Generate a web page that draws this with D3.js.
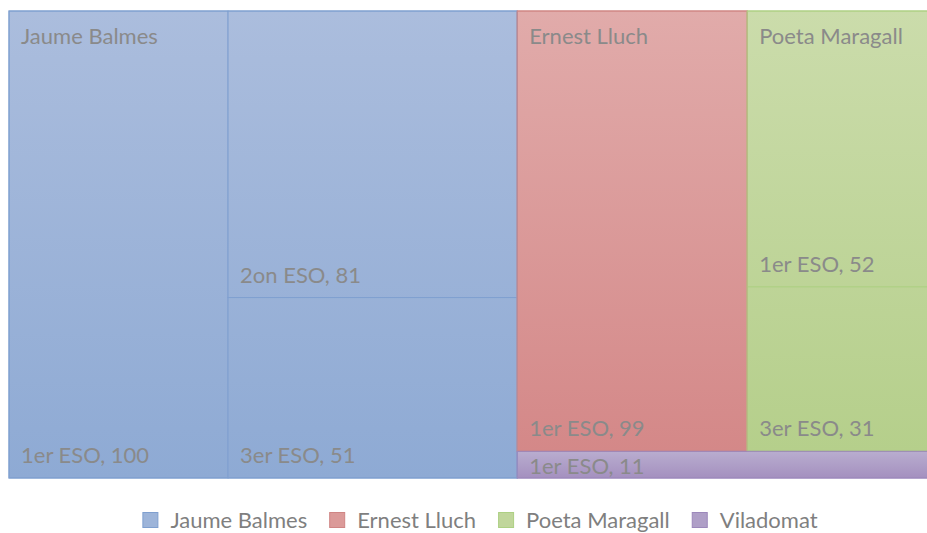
<!DOCTYPE html>
<html>
<head>
<meta charset="utf-8">
<script src="https://cdn.jsdelivr.net/npm/d3@7"></script>
<style>
  body { margin: 0; background: #fff; }
  text { font-family: Lato, "Open Sans", sans-serif; }
</style>
</head>
<body>
<div id="chart"></div>
<script>
// schools (series) and their courses
const schools = ["Jaume Balmes", "Ernest Lluch", "Poeta Maragall", "Viladomat"];
const jaumeCourses = ["1er ESO", "2on ESO", "3er ESO"];
const jaumeValues = [100, 81, 51];
const ernestCourses = ["1er ESO"];
const ernestValues = [99];
const poetaCourses = ["1er ESO", "3er ESO"];
const poetaValues = [52, 31];
const viladomatCourses = ["1er ESO"];
const viladomatValues = [11];

const colorTop = ["#abbddd", "#e1abaa", "#cbdcab", "#b9adcf"];
const colorBottom = ["#8eaad4", "#d48888", "#b5cf8b", "#a490bf"];
const strokes = ["#7f9fcf", "#cf8584", "#add083", "#9c88bb"];

const width = 927, height = 533;
const plot = { x0: 9, y0: 11, x1: 940, y1: 478 };
const fontSize = 22;

const tree = {
  name: "root",
  children: [
    { name: schools[0], children: jaumeCourses.map((c, i) => ({ name: c, value: jaumeValues[i] })) },
    { name: schools[1], children: ernestCourses.map((c, i) => ({ name: c, value: ernestValues[i] })) },
    { name: schools[2], children: poetaCourses.map((c, i) => ({ name: c, value: poetaValues[i] })) },
    { name: schools[3], children: viladomatCourses.map((c, i) => ({ name: c, value: viladomatValues[i] })) }
  ]
};

function place(n, x0, y0, x1, y1) {
  n.x0 = x0; n.y0 = y0; n.x1 = x1; n.y1 = y1;
}

// office-style layout: wide box -> first item takes a column,
// tall box -> last item takes a strip at the bottom, the rest sit side by side
function layoutNodes(nodes, x0, y0, x1, y1) {
  if (nodes.length === 1) { place(nodes[0], x0, y0, x1, y1); return; }
  const total = d3.sum(nodes, d => d.value);
  if (x1 - x0 > y1 - y0) {
    const xm = x0 + (x1 - x0) * nodes[0].value / total;
    place(nodes[0], x0, y0, xm, y1);
    layoutNodes(nodes.slice(1), xm, y0, x1, y1);
  } else {
    const last = nodes[nodes.length - 1];
    const ym = y1 - (y1 - y0) * last.value / total;
    place(last, x0, ym, x1, y1);
    const rest = nodes.slice(0, -1);
    d3.treemapDice({ value: total - last.value, children: rest }, x0, y0, x1, ym);
  }
}

function officeTile(parent, x0, y0, x1, y1) {
  layoutNodes(parent.children, x0, y0, x1, y1);
}

const root = d3.hierarchy(tree).sum(d => d.value || 0);
d3.treemap()
  .tile(officeTile)
  .size([plot.x1 - plot.x0, plot.y1 - plot.y0])
  .round(false)(root);

const svg = d3.select("#chart")
  .append("svg")
  .attr("width", width)
  .attr("height", height);

const defs = svg.append("defs");
const g = svg.append("g")
  .attr("transform", "translate(" + plot.x0 + "," + plot.y0 + ")");

const groups = root.children;

// one vertical gradient per school, spanning the school's block
groups.forEach((grp, i) => {
  const lg = defs.append("linearGradient")
    .attr("id", "grad" + i)
    .attr("gradientUnits", "userSpaceOnUse")
    .attr("x1", 0).attr("x2", 0)
    .attr("y1", grp.y0).attr("y2", grp.y1);
  lg.append("stop").attr("offset", "0%").attr("stop-color", colorTop[i]);
  lg.append("stop").attr("offset", "100%").attr("stop-color", colorBottom[i]);
});

const leaves = root.leaves();

g.selectAll("rect.leaf")
  .data(leaves)
  .enter()
  .append("rect")
  .attr("class", "leaf")
  .attr("x", d => d.x0)
  .attr("y", d => d.y0)
  .attr("width", d => d.x1 - d.x0)
  .attr("height", d => d.y1 - d.y0)
  .attr("fill", d => "url(#grad" + groups.indexOf(d.parent) + ")")
  .attr("stroke", d => strokes[groups.indexOf(d.parent)])
  .attr("stroke-width", 1);

// school outlines
g.selectAll("rect.group")
  .data(groups)
  .enter()
  .append("rect")
  .attr("class", "group")
  .attr("x", d => d.x0)
  .attr("y", d => d.y0)
  .attr("width", d => d.x1 - d.x0)
  .attr("height", d => d.y1 - d.y0)
  .attr("fill", "none")
  .attr("stroke", (d, i) => strokes[i])
  .attr("stroke-width", 1);

// school names, only where there is room
g.selectAll("text.group")
  .data(groups.filter(d => d.y1 - d.y0 > 60))
  .enter()
  .append("text")
  .attr("class", "group")
  .attr("x", d => d.x0 + 12)
  .attr("y", d => d.y0 + 33)
  .attr("font-size", fontSize)
  .attr("fill", "#8a8a8a")
  .text(d => d.data.name);

g.selectAll("text.leaf")
  .data(leaves)
  .enter()
  .append("text")
  .attr("class", "leaf")
  .attr("x", d => d.x0 + 12)
  .attr("y", d => Math.max(d.y1 - 15, d.y0 + 23))
  .attr("font-size", fontSize)
  .attr("fill", "#8a8a8a")
  .text(d => d.data.name + ", " + d.data.value);

// legend
const legend = svg.append("g");
let lx = 0;
schools.forEach((s, i) => {
  const item = legend.append("g").attr("transform", "translate(" + lx + ",0)");
  item.append("rect")
    .attr("x", 0.5).attr("y", 512.5)
    .attr("width", 15).attr("height", 15)
    .attr("fill", d3.interpolateRgb(colorTop[i], colorBottom[i])(0.5))
    .attr("stroke", strokes[i])
    .attr("stroke-width", 1);
  const t = item.append("text")
    .attr("x", 28)
    .attr("y", 528)
    .attr("font-size", fontSize)
    .attr("fill", "#7f7f7f")
    .text(s);
  lx += 28 + t.node().getComputedTextLength() + 22;
});
const legendWidth = lx - 22;
legend.attr("transform", "translate(" + (480 - legendWidth / 2) + ",0)");
</script>
</body>
</html>
